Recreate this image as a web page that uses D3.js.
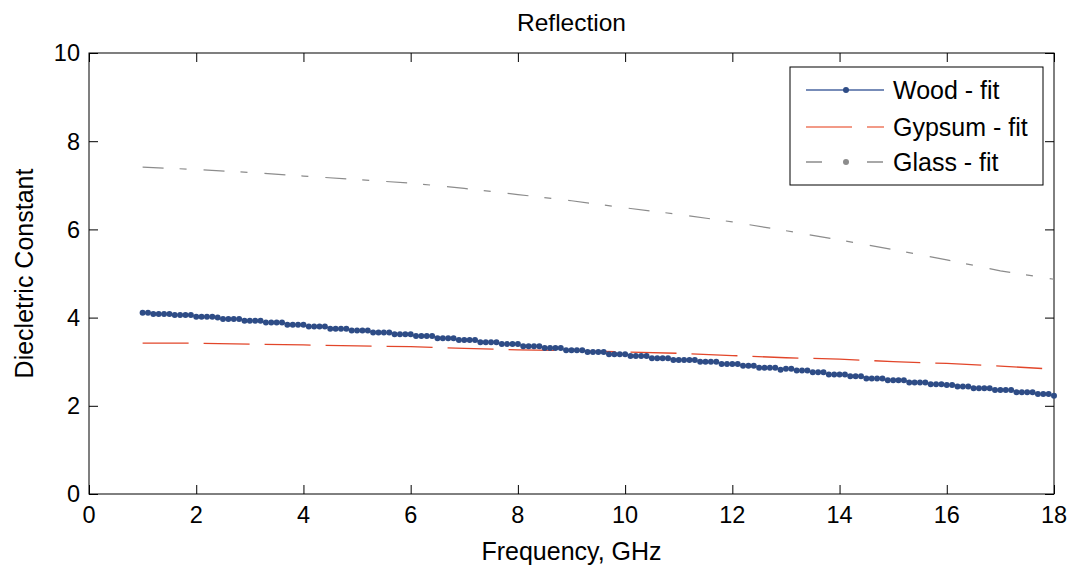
<!DOCTYPE html>
<html>
<head>
<meta charset="utf-8">
<script src="https://cdn.jsdelivr.net/npm/d3@7"></script>
<style>
  body { margin: 0; background: #fff; }
  svg { display: block; font-family: "Liberation Sans", Arial, sans-serif; }
</style>
</head>
<body>
<div id="chart"></div>
<script>
// Wood - fit, sampled every 0.1 GHz from 1 to 18 GHz
const woodFreqStart = 1, woodFreqStep = 0.1;
const woodValues = [
  4.11, 4.11, 4.08, 4.08, 4.08, 4.08, 4.06, 4.06, 4.06, 4.06,
  4.02, 4.02, 4.02, 4.02, 4.00, 3.97, 3.97, 3.97, 3.97, 3.93,
  3.93, 3.93, 3.93, 3.89, 3.89, 3.89, 3.89, 3.84, 3.84, 3.84,
  3.84, 3.80, 3.80, 3.80, 3.80, 3.75, 3.75, 3.75, 3.75, 3.71,
  3.71, 3.71, 3.71, 3.66, 3.66, 3.66, 3.66, 3.62, 3.62, 3.62,
  3.62, 3.58, 3.58, 3.58, 3.58, 3.53, 3.53, 3.53, 3.53, 3.49,
  3.49, 3.49, 3.49, 3.44, 3.44, 3.44, 3.44, 3.40, 3.40, 3.40,
  3.40, 3.35, 3.35, 3.35, 3.35, 3.31, 3.31, 3.31, 3.31, 3.26,
  3.26, 3.26, 3.26, 3.22, 3.22, 3.22, 3.22, 3.17, 3.17, 3.17,
  3.17, 3.13, 3.13, 3.13, 3.13, 3.08, 3.08, 3.08, 3.08, 3.04,
  3.04, 3.04, 3.04, 3.04, 3.00, 3.00, 3.00, 3.00, 2.95, 2.95,
  2.95, 2.95, 2.91, 2.91, 2.91, 2.86, 2.86, 2.86, 2.86, 2.82,
  2.84, 2.84, 2.80, 2.80, 2.80, 2.76, 2.76, 2.76, 2.71, 2.71,
  2.71, 2.71, 2.67, 2.67, 2.67, 2.62, 2.62, 2.62, 2.62, 2.58,
  2.58, 2.58, 2.58, 2.53, 2.53, 2.53, 2.53, 2.49, 2.49, 2.49,
  2.47, 2.47, 2.44, 2.44, 2.44, 2.40, 2.40, 2.40, 2.40, 2.36,
  2.36, 2.36, 2.36, 2.31, 2.31, 2.31, 2.31, 2.27, 2.27, 2.27,
  2.23
];

// Gypsum / Glass fits, read at every GHz
const fitFreqs = [1, 2, 3, 4, 5, 6, 7, 8, 9, 10, 11, 12, 13, 14, 15, 16, 17, 18];
const gypsumValues = [3.42, 3.42, 3.40, 3.38, 3.36, 3.34, 3.30, 3.27, 3.25,
                      3.22, 3.19, 3.14, 3.09, 3.06, 3.00, 2.96, 2.90, 2.83];
const glassValues = [7.41, 7.36, 7.29, 7.21, 7.13, 7.05, 6.93, 6.79, 6.65,
                     6.49, 6.34, 6.17, 5.97, 5.76, 5.54, 5.31, 5.06, 4.87];

const xTicks = [0, 2, 4, 6, 8, 10, 12, 14, 16, 18];
const yTicks = [0, 2, 4, 6, 8, 10];
const legendLabels = ["Wood - fit", "Gypsum - fit", "Glass - fit"];

const W = 1076, H = 567;
const plotL = 89, plotR = 1054, plotT = 53, plotB = 494;
const tickLen = 9;

const svg = d3.select("#chart").append("svg")
    .attr("width", W)
    .attr("height", H);

const x = d3.scaleLinear().domain([0, 18]).range([plotL, plotR]);
const y = d3.scaleLinear().domain([0, 10]).range([plotB, plotT]);

// axes, matlab style: ticks point inward on all four sides
svg.append("g")
    .attr("transform", `translate(0,${plotB})`)
    .call(d3.axisTop(x).tickValues(xTicks).tickSize(tickLen).tickFormat(""));
svg.append("g")
    .attr("transform", `translate(0,${plotT})`)
    .call(d3.axisBottom(x).tickValues(xTicks).tickSize(tickLen).tickFormat(""));
svg.append("g")
    .attr("transform", `translate(${plotL},0)`)
    .call(d3.axisRight(y).tickValues(yTicks).tickSize(tickLen).tickFormat(""));
svg.append("g")
    .attr("transform", `translate(${plotR},0)`)
    .call(d3.axisLeft(y).tickValues(yTicks).tickSize(tickLen).tickFormat(""));
svg.selectAll(".domain").remove();
svg.selectAll(".tick line").attr("stroke", "#000");

svg.append("rect")
    .attr("x", plotL).attr("y", plotT)
    .attr("width", plotR - plotL).attr("height", plotB - plotT)
    .attr("fill", "none").attr("stroke", "#000").attr("stroke-width", 1);

// tick labels
svg.append("g").selectAll("text")
    .data(xTicks).enter().append("text")
    .attr("x", d => x(d)).attr("y", 523)
    .attr("text-anchor", "middle")
    .attr("font-size", 23.5)
    .text(d => d);
svg.append("g").selectAll("text")
    .data(yTicks).enter().append("text")
    .attr("x", plotL - 9).attr("y", d => y(d))
    .attr("dy", "0.36em")
    .attr("text-anchor", "end")
    .attr("font-size", 23.5)
    .text(d => d);

// titles
svg.append("text")
    .attr("x", (plotL + plotR) / 2).attr("y", 31)
    .attr("text-anchor", "middle").attr("font-size", 24.5)
    .text("Reflection");
svg.append("text")
    .attr("x", (plotL + plotR) / 2).attr("y", 560)
    .attr("text-anchor", "middle").attr("font-size", 25)
    .text("Frequency, GHz");
svg.append("text")
    .attr("transform", `translate(33,${(plotT + plotB) / 2}) rotate(-90)`)
    .attr("text-anchor", "middle").attr("font-size", 25)
    .text("Diecletric Constant");

const woodColor = "#2e4c86", gypsumColor = "#e2462a", glassColor = "#8c8c8c";

const line = d3.line().x(d => x(d[0])).y(d => y(d[1]));
const woodData = woodValues.map((v, i) => [woodFreqStart + i * woodFreqStep, v]);
const gypsumData = fitFreqs.map((f, i) => [f, gypsumValues[i]]);
const glassData = fitFreqs.map((f, i) => [f, glassValues[i]]);

const plot = svg.append("g");

plot.append("path")
    .attr("d", line(glassData))
    .attr("fill", "none").attr("stroke", glassColor).attr("stroke-width", 1.2)
    .attr("stroke-dasharray", "21,16,7,17");

plot.append("path")
    .attr("d", line(gypsumData))
    .attr("fill", "none").attr("stroke", gypsumColor).attr("stroke-width", 1.3)
    .attr("stroke-dasharray", "46,15");

plot.append("path")
    .attr("d", line(woodData))
    .attr("fill", "none").attr("stroke", woodColor).attr("stroke-width", 1);

plot.selectAll(".wood-dot")
    .data(woodData).enter().append("circle")
    .attr("class", "wood-dot")
    .attr("cx", d => x(d[0])).attr("cy", d => y(d[1]))
    .attr("r", 3)
    .attr("fill", woodColor);

// legend
const legend = svg.append("g");
legend.append("rect")
    .attr("x", 790).attr("y", 67).attr("width", 253).attr("height", 118)
    .attr("fill", "#fff").attr("stroke", "#000").attr("stroke-width", 1);

const legendRows = [90, 127, 162];
const legendStyles = [
    {color: "#4a66a0", dash: null, dot: woodColor},
    {color: "#ee7a60", dash: "46,15", dot: null},
    {color: glassColor, dash: "16,45", dot: glassColor}
];
legendLabels.forEach((label, i) => {
    const ly = legendRows[i], s = legendStyles[i];
    const l = legend.append("line")
        .attr("x1", 806).attr("x2", 884).attr("y1", ly).attr("y2", ly)
        .attr("stroke", s.color).attr("stroke-width", 1.3);
    if (s.dash) l.attr("stroke-dasharray", s.dash);
    if (s.dot) legend.append("circle")
        .attr("cx", 846).attr("cy", ly).attr("r", 3).attr("fill", s.dot);
    legend.append("text")
        .attr("x", 893).attr("y", ly).attr("dy", "0.36em")
        .attr("font-size", 25)
        .text(label);
});
</script>
</body>
</html>
